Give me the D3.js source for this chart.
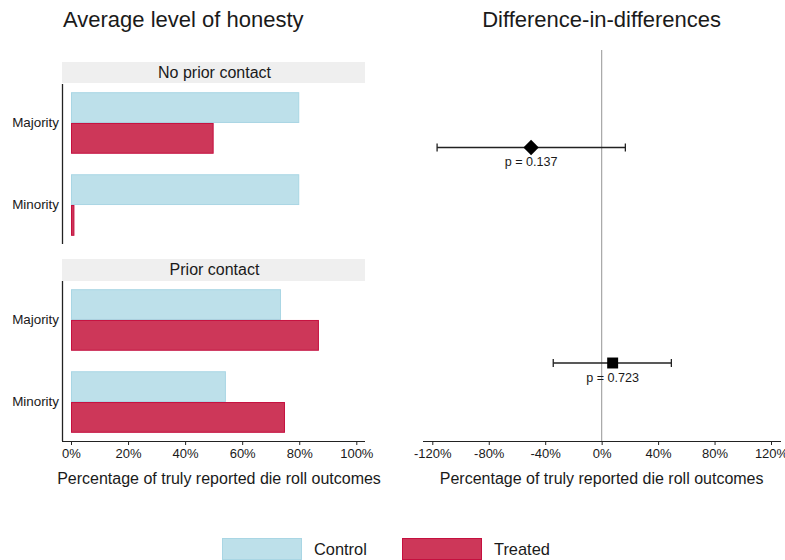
<!DOCTYPE html>
<html>
<head>
<meta charset="utf-8">
<script src="https://cdn.jsdelivr.net/npm/d3@7"></script>
<style>
  body { margin: 0; background: #fff; }
  svg { display: block; font-family: "Liberation Sans", Arial, Helvetica, sans-serif; }
</style>
</head>
<body>
<svg id="chart" width="785" height="560"></svg>
<script>
// ---- data ----
const panels = ["No prior contact", "Prior contact"];
const groups = ["Majority", "Minority"];
const conditions = ["Control", "Treated"];
// share of truly reported outcomes, per panel -> group -> [control, treated]
const noContactControl = [0.80, 0.80];
const noContactTreated = [0.50, 0.012];
const contactControl = [0.736, 0.543];
const contactTreated = [0.869, 0.75];
const honestyTicks = [0, 0.2, 0.4, 0.6, 0.8, 1.0];

// difference-in-differences estimates with confidence intervals
const didEstimate = [-0.50, 0.078];
const didLower = [-1.166, -0.343];
const didUpper = [0.168, 0.494];
const didPValues = ["p = 0.137", "p = 0.723"];
const didTicks = [-1.2, -0.8, -0.4, 0, 0.4, 0.8, 1.2];

const colors = { Control: "#bde0ea", Treated: "#cd3759" };
const strokes = { Control: "#a9d6e4", Treated: "#c5103f" };

const svg = d3.select("#chart");
const pctFormat = d3.format(".0%");
const fmtPct = v => pctFormat(v).replace("\u2212", "-");
const textColor = "#1a1a1a";

// ---- left: grouped horizontal bars ----
const left = { x0: 62, x1: 365 };
const x = d3.scaleLinear().domain([0, 1]).range([71, 356.3]);
const panelBoxes = [
  { stripTop: 62, stripBottom: 83, top: 84, bottom: 244 },
  { stripTop: 259, stripBottom: 281, top: 281, bottom: 441 }
];
const panelData = [
  [noContactControl, noContactTreated],
  [contactControl, contactTreated]
];

panels.forEach((name, pi) => {
  const box = panelBoxes[pi];
  const g = svg.append("g");

  g.append("rect")
    .attr("x", left.x0).attr("y", box.stripTop)
    .attr("width", left.x1 - left.x0).attr("height", box.stripBottom - box.stripTop)
    .attr("fill", "#efefef");
  g.append("text")
    .attr("x", (left.x0 + left.x1) / 2 + 1).attr("y", (box.stripTop + box.stripBottom) / 2 + 5)
    .attr("text-anchor", "middle").attr("font-size", 16).attr("fill", textColor)
    .text(name);

  const y = d3.scaleBand().domain(groups).range([box.top, box.bottom]).paddingInner(0.25).paddingOuter(0.1);
  const ySub = d3.scaleBand().domain(conditions).range([0, y.bandwidth()]);

  const rows = groups.map((grp, gi) => ({
    grp,
    values: conditions.map((c, ci) => ({ cond: c, value: panelData[pi][ci][gi] }))
  }));

  const rowG = g.selectAll("g.row").data(rows).join("g")
    .attr("class", "row")
    .attr("transform", d => `translate(0,${y(d.grp)})`);
  rowG.selectAll("rect").data(d => d.values).join("rect")
    .attr("x", x(0) + 0.5)
    .attr("y", d => ySub(d.cond) + 0.5)
    .attr("width", d => Math.max(0, x(d.value) - x(0) - 1))
    .attr("height", ySub.bandwidth() - 1)
    .attr("fill", d => colors[d.cond])
    .attr("stroke", d => strokes[d.cond])
    .attr("stroke-width", 1);

  const yAxis = g.append("g")
    .attr("transform", `translate(${left.x0},0)`)
    .call(d3.axisLeft(y).tickSize(0).tickPadding(3));
  yAxis.select(".domain").attr("stroke", "#222").attr("stroke-width", 1.3)
    .attr("d", `M0.5,${box.top}V${box.bottom}`);
  yAxis.selectAll("text").attr("font-size", 13.4).attr("fill", textColor)
    .attr("font-family", "Liberation Sans, Arial, sans-serif");
});

// bottom x axis of the bar panels
const xAxisL = svg.append("g")
  .attr("transform", `translate(0,${panelBoxes[1].bottom})`)
  .call(d3.axisBottom(x).tickValues(honestyTicks).tickFormat(fmtPct).tickSize(4).tickPadding(4));
xAxisL.select(".domain").attr("d", `M${left.x0},0.5H${left.x1}`).attr("stroke", "#222");
xAxisL.selectAll("line").attr("stroke", "#222");
xAxisL.selectAll("text").attr("font-size", 13).attr("fill", textColor)
  .attr("font-family", "Liberation Sans, Arial, sans-serif");

svg.append("text")
  .attr("x", 219).attr("y", 484)
  .attr("text-anchor", "middle").attr("font-size", 16).attr("fill", textColor)
  .text("Percentage of truly reported die roll outcomes");

svg.append("text")
  .attr("x", 63).attr("y", 27)
  .attr("font-size", 22).attr("fill", textColor)
  .text("Average level of honesty");

// ---- right: difference-in-differences point estimates ----
const right = { x0: 423, x1: 781, top: 50, bottom: 441 };
const xd = d3.scaleLinear().domain([-1.2, 1.2]).range([432.3, 771]);
const yd = d3.scalePoint().domain(panels).range([147.5, 363]);

svg.append("line")
  .attr("x1", xd(0)).attr("x2", xd(0))
  .attr("y1", right.top).attr("y2", right.bottom)
  .attr("stroke", "#a6a6a6").attr("stroke-width", 1.2);

const did = panels.map((p, i) => ({
  panel: p, est: didEstimate[i], lo: didLower[i], hi: didUpper[i], label: didPValues[i], shape: i === 0 ? d3.symbolDiamond2 : d3.symbolSquare
}));

const pts = svg.selectAll("g.did").data(did).join("g")
  .attr("class", "did")
  .attr("transform", d => `translate(0,${yd(d.panel)})`);
pts.append("line")
  .attr("x1", d => xd(d.lo)).attr("x2", d => xd(d.hi))
  .attr("y1", 0).attr("y2", 0)
  .attr("stroke", "#222").attr("stroke-width", 1.3);
pts.append("line")
  .attr("x1", d => xd(d.lo)).attr("x2", d => xd(d.lo))
  .attr("y1", -4).attr("y2", 4).attr("stroke", "#222").attr("stroke-width", 1.3);
pts.append("line")
  .attr("x1", d => xd(d.hi)).attr("x2", d => xd(d.hi))
  .attr("y1", -4).attr("y2", 4).attr("stroke", "#222").attr("stroke-width", 1.3);
pts.append("path")
  .attr("transform", d => `translate(${xd(d.est)},0)`)
  .attr("d", d => d3.symbol().type(d.shape).size(d.shape === d3.symbolSquare ? 120 : 150)())
  .attr("fill", "#000");
pts.append("text")
  .attr("x", d => xd(d.est)).attr("y", 18.5)
  .attr("text-anchor", "middle").attr("font-size", 12.6).attr("fill", textColor)
  .text(d => d.label);

const xAxisR = svg.append("g")
  .attr("transform", `translate(0,${right.bottom})`)
  .call(d3.axisBottom(xd).tickValues(didTicks).tickFormat(fmtPct).tickSize(4).tickPadding(4));
xAxisR.select(".domain").attr("d", `M${right.x0},0.5H${right.x1}`).attr("stroke", "#222");
xAxisR.selectAll("line").attr("stroke", "#222");
xAxisR.selectAll("text").attr("font-size", 13).attr("fill", textColor)
  .attr("font-family", "Liberation Sans, Arial, sans-serif");

svg.append("text")
  .attr("x", xd(0)).attr("y", 484)
  .attr("text-anchor", "middle").attr("font-size", 16).attr("fill", textColor)
  .text("Percentage of truly reported die roll outcomes");

svg.append("text")
  .attr("x", xd(0)).attr("y", 27)
  .attr("text-anchor", "middle").attr("font-size", 22).attr("fill", textColor)
  .text("Difference-in-differences");

// ---- legend ----
const legendItems = conditions.map((c, i) => ({ cond: c, x: 222 + i * 180 }));
const leg = svg.selectAll("g.legend").data(legendItems).join("g")
  .attr("class", "legend")
  .attr("transform", d => `translate(${d.x},538)`);
leg.append("rect")
  .attr("x", 0.5).attr("y", 0.5).attr("width", 79).attr("height", 21)
  .attr("fill", d => colors[d.cond]).attr("stroke", d => strokes[d.cond]);
leg.append("text")
  .attr("x", 92).attr("y", 17)
  .attr("font-size", 16.4).attr("fill", textColor)
  .text(d => d.cond);
</script>
</body>
</html>
